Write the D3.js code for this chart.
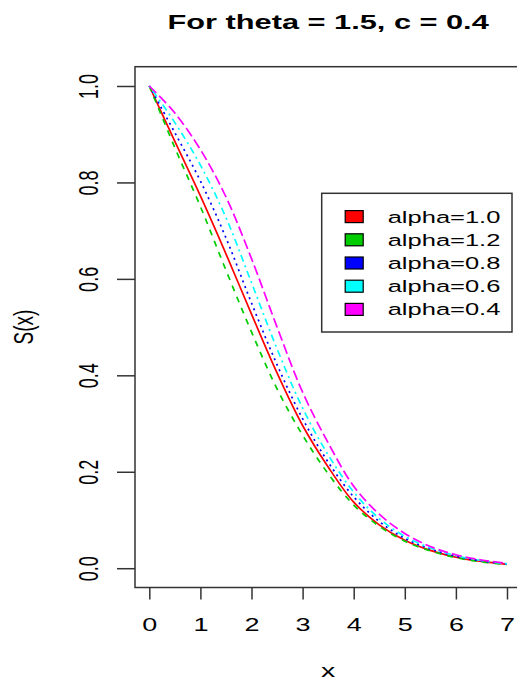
<!DOCTYPE html>
<html>
<head>
<meta charset="utf-8">
<script src="https://cdn.jsdelivr.net/npm/d3@7"></script>
<style>
    body { margin: 0; background: white; }
    svg { display: block; font-family: "Liberation Sans", Arial, sans-serif; }
</style>
</head>
<body>
<div id="chart"></div>
<script>
// values
var xValues = [0, 0.5, 1, 1.5, 2, 2.5, 3, 3.5, 4, 4.5, 5, 5.5, 6, 6.5, 7];
var alpha10 = [1, 0.885, 0.772, 0.652, 0.527, 0.405, 0.296, 0.21, 0.137, 0.09, 0.058, 0.037, 0.023, 0.014, 0.008];
var alpha12 = [1, 0.872, 0.75, 0.618, 0.49, 0.372, 0.276, 0.196, 0.131, 0.087, 0.056, 0.036, 0.022, 0.013, 0.008];
var alpha08 = [1, 0.903, 0.803, 0.685, 0.55, 0.422, 0.31, 0.22, 0.148, 0.097, 0.062, 0.04, 0.025, 0.015, 0.009];
var alpha06 = [1, 0.924, 0.836, 0.727, 0.592, 0.455, 0.332, 0.235, 0.158, 0.103, 0.066, 0.042, 0.026, 0.016, 0.009];
var alpha04 = [1, 0.944, 0.868, 0.77, 0.642, 0.5, 0.365, 0.26, 0.17, 0.112, 0.072, 0.045, 0.028, 0.017, 0.01];

var seriesLabels = ["alpha=1.0", "alpha=1.2", "alpha=0.8", "alpha=0.6", "alpha=0.4"];
var seriesValues = [alpha10, alpha12, alpha08, alpha06, alpha04];
var xTicks = [0, 1, 2, 3, 4, 5, 6, 7];
var yTicks = [0, 0.2, 0.4, 0.6, 0.8, 1.0];

var colors = ["#ff0000", "#00cd00", "#0000ff", "#00ffff", "#ff00ff"];
var dashes = [null, "6,6", "2,4", "2,4,7,4", "10,4"];

// the reference picture is stretched sideways, so text gets the same stretch
var sx = 1.5;

var width = 517, height = 681;
var box = { left: 135, right: 521.3, top: 66.7, bottom: 587.5 };

var svg = d3.select("#chart")
    .append("svg")
    .attr("width", width)
    .attr("height", height);

var x = d3.scaleLinear()
    .domain([-0.28, 7.28])
    .range([box.left, box.right]);

var y = d3.scaleLinear()
    .domain([-0.04, 1.04])
    .range([box.bottom, box.top]);

// title
svg.append("text")
    .attr("transform", `translate(${(box.left + box.right) / 2},29) scale(${sx},1)`)
    .attr("text-anchor", "middle")
    .style("font-size", "20.5px")
    .style("font-weight", "bold")
    .text("For theta = 1.5, c = 0.4");

// curves
var line = d3.line()
    .x((d, i) => x(xValues[i]))
    .y(d => y(d))
    .curve(d3.curveCatmullRom.alpha(0.5));

seriesValues.forEach((values, i) => {
    svg.append("path")
        .datum(values)
        .attr("d", line)
        .attr("fill", "none")
        .attr("stroke", colors[i])
        .attr("stroke-width", 1.7)
        .attr("stroke-dasharray", dashes[i]);
});

// plot box
svg.append("rect")
    .attr("x", box.left)
    .attr("y", box.top)
    .attr("width", box.right - box.left)
    .attr("height", box.bottom - box.top)
    .attr("fill", "none")
    .attr("stroke", "#333")
    .attr("stroke-width", 1.5);

// x axis
var xAxis = svg.append("g")
    .attr("transform", `translate(0,${box.bottom})`)
    .call(d3.axisBottom(x).tickValues(xTicks).tickSize(12).tickFormat(d3.format("d")));

xAxis.select(".domain").remove();
xAxis.selectAll(".tick line").attr("stroke", "#333").attr("stroke-width", 1.5);
xAxis.selectAll(".tick text")
    .attr("y", null)
    .attr("dy", null)
    .attr("fill", "#000")
    .attr("transform", `translate(0,43) scale(${sx},1)`)
    .style("font-size", "18px")
    .style("font-family", "'Liberation Sans', Arial, sans-serif");

// y axis
var yAxis = svg.append("g")
    .attr("transform", `translate(${box.left},0)`)
    .call(d3.axisLeft(y).tickValues(yTicks).tickSize(18).tickFormat(d3.format(".1f")));

yAxis.select(".domain").remove();
yAxis.selectAll(".tick line").attr("stroke", "#333").attr("stroke-width", 1.5);
yAxis.selectAll(".tick text")
    .attr("x", null)
    .attr("dy", null)
    .attr("fill", "#000")
    .attr("text-anchor", "middle")
    .attr("transform", `translate(-37,0) scale(${sx},1) rotate(-90)`)
    .style("font-size", "18px")
    .style("font-family", "'Liberation Sans', Arial, sans-serif");

// axis titles
svg.append("text")
    .attr("transform", `translate(${(box.left + box.right) / 2},677) scale(${sx},1)`)
    .attr("text-anchor", "middle")
    .style("font-size", "19px")
    .text("x");

svg.append("text")
    .attr("transform", `translate(33,${(box.top + box.bottom) / 2}) scale(${sx},1) rotate(-90)`)
    .attr("text-anchor", "middle")
    .style("font-size", "19px")
    .text("S(x)");

// legend
var legend = svg.append("g")
    .attr("transform", "translate(321.7,193.3)");

legend.append("rect")
    .attr("width", 190.3)
    .attr("height", 138.7)
    .attr("fill", "white")
    .attr("stroke", "#333")
    .attr("stroke-width", 1.5);

seriesLabels.forEach((label, i) => {
    var row = legend.append("g")
        .attr("transform", `translate(0,${23.3 + i * 23.2})`);

    row.append("rect")
        .attr("x", 23.5)
        .attr("y", -6)
        .attr("width", 18)
        .attr("height", 12)
        .attr("fill", colors[i])
        .attr("stroke", "#000")
        .attr("stroke-width", 1.2);

    row.append("text")
        .attr("transform", `translate(66,6) scale(${sx},1)`)
        .style("font-size", "17px")
        .text(label);
});
</script>
</body>
</html>
